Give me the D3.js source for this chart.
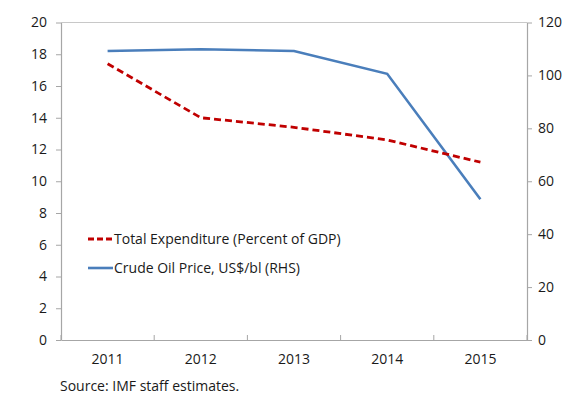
<!DOCTYPE html>
<html>
<head>
<meta charset="utf-8">
<script src="https://cdn.jsdelivr.net/npm/d3@7"></script>
<style>
  body { margin: 0; background: #fff; }
  text { font-family: "Open Sans", "Noto Sans", sans-serif; fill: #1a1a1a; }
</style>
</head>
<body>
<svg id="chart" width="568" height="396"></svg>
<script>
// Fiscal data, 2011–2015
const years = ["2011", "2012", "2013", "2014", "2015"];
const expenditure = [17.4, 14.0, 13.4, 12.6, 11.2];   // percent of GDP (left axis)
const oilPrice = [109.2, 109.9, 109.2, 100.6, 53.2];   // US$ per barrel (right axis)
const leftTicks = [0, 2, 4, 6, 8, 10, 12, 14, 16, 18, 20];
const rightTicks = [0, 20, 40, 60, 80, 100, 120];
const legendLabels = ["Total Expenditure (Percent of GDP)", "Crude Oil Price, US$/bl (RHS)"];
const sourceNote = "Source: IMF staff estimates.";

const svg = d3.select("#chart");
const plot = { left: 61, right: 527, top: 22.5, bottom: 340 };
const axisColor = "#a6a6a6";
const expColor = "#c00000";
const oilColor = "#4a7ebb";

const x = d3.scaleBand().domain(years).range([plot.left, plot.right]);
const yL = d3.scaleLinear().domain([0, 20]).range([plot.bottom, plot.top]);
const yR = d3.scaleLinear().domain([0, 120]).range([plot.bottom, plot.top]);

// Frame: top border plus the three axis lines
svg.append("line")
  .attr("x1", plot.left).attr("x2", plot.right)
  .attr("y1", plot.top).attr("y2", plot.top)
  .attr("stroke", "#c8c8c8").attr("stroke-width", 1);

function styleAxis(g) {
  g.selectAll("path.domain").attr("stroke", axisColor).attr("stroke-width", 1.2);
  g.selectAll(".tick line").attr("stroke", axisColor);
  g.selectAll(".tick text").style("font-size", "14px").attr("fill", "#1a1a1a");
}

// Left axis
svg.append("g")
  .attr("transform", `translate(${plot.left},0)`)
  .call(d3.axisLeft(yL).tickValues(leftTicks).tickSize(5).tickSizeOuter(0).tickPadding(9))
  .call(styleAxis);

// Right axis
svg.append("g")
  .attr("transform", `translate(${plot.right},0)`)
  .call(d3.axisRight(yR).tickValues(rightTicks).tickSize(5).tickSizeOuter(0).tickPadding(6))
  .call(styleAxis);

// Bottom axis: labels centred in bands, tick marks at band boundaries pointing up
const gx = svg.append("g")
  .attr("transform", `translate(0,${plot.bottom})`)
  .call(d3.axisBottom(x).tickSize(0).tickPadding(14))
  .call(styleAxis);
gx.selectAll(".tick text").attr("dy", "0.71em");
const boundaries = years.map(d => x(d)).concat([x(years[years.length - 1]) + x.bandwidth()]);
gx.selectAll("line.boundary").data(boundaries).enter().append("line")
  .attr("class", "boundary")
  .attr("x1", d => d).attr("x2", d => d)
  .attr("y1", 0).attr("y2", -5)
  .attr("stroke", axisColor);

const cx = d => x(d) + x.bandwidth() / 2;

// Crude oil price (right axis)
svg.append("path")
  .datum(years.map((d, i) => [cx(d), yR(oilPrice[i])]))
  .attr("fill", "none")
  .attr("stroke", oilColor)
  .attr("stroke-width", 2.6)
  .attr("d", d3.line());

// Total expenditure (left axis)
svg.append("path")
  .datum(years.map((d, i) => [cx(d), yL(expenditure[i])]))
  .attr("fill", "none")
  .attr("stroke", expColor)
  .attr("stroke-width", 2.8)
  .attr("stroke-dasharray", "7,4")
  .attr("d", d3.line());

// Legend
const legend = svg.append("g");
const legendItems = [
  { label: legendLabels[0], color: expColor, dash: "6,3", y: 239 },
  { label: legendLabels[1], color: oilColor, dash: null, y: 268 }
];
legendItems.forEach(item => {
  legend.append("line")
    .attr("x1", 88).attr("x2", 113)
    .attr("y1", item.y).attr("y2", item.y)
    .attr("stroke", item.color)
    .attr("stroke-width", item.dash ? 2.8 : 2.6)
    .attr("stroke-dasharray", item.dash);
  legend.append("text")
    .attr("x", 114).attr("y", item.y)
    .attr("dy", "0.35em")
    .style("font-size", "14px")
    .text(item.label);
});

// Source note
svg.append("text")
  .attr("x", 60).attr("y", 391)
  .style("font-size", "14px")
  .text(sourceNote);
</script>
</body>
</html>
